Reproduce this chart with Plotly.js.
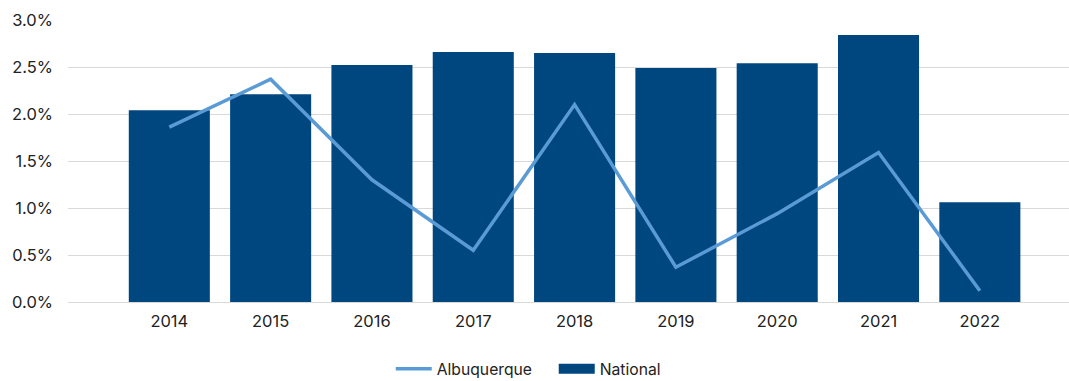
<!DOCTYPE html>
<html>
<head>
<meta charset="utf-8">
<script src="https://cdn.plot.ly/plotly-3.0.1.min.js"></script>
<style>html,body{margin:0;padding:0;background:#fff;}#chart{width:1069px;height:381px;}</style>
</head>
<body>
<div id="chart"></div>
<script>
const years = ['2014','2015','2016','2017','2018','2019','2020','2021','2022'];
const national = [0.0204, 0.0221, 0.0252, 0.0266, 0.0265, 0.0249, 0.0254, 0.0284, 0.0106];
const albuquerque = [0.0186, 0.0237, 0.0130, 0.0055, 0.0210, 0.0037, 0.0094, 0.0159, 0.0012];
const yTicks = [0, 0.005, 0.01, 0.015, 0.02, 0.025, 0.03];

const font = {family: 'Inter, "Noto Sans", sans-serif', color: '#222', size: 16};

const data = [
  {type: 'scatter', mode: 'lines', name: 'Albuquerque', x: years, y: albuquerque,
   line: {color: '#5B9BD5', width: 3.5}},
  {type: 'bar', name: 'National', x: years, y: national, showlegend: false,
   marker: {color: '#00467F'}, width: 0.8},
  // legend entry for the bars, drawn as a wide block like the reference
  {type: 'scatter', mode: 'lines', name: 'National', x: [null], y: [null],
   line: {color: '#00467F', width: 13}, hoverinfo: 'skip'}
];

const layout = {
  width: 1069, height: 381,
  margin: {l: 68, r: 0, t: 20, b: 79, autoexpand: false},
  paper_bgcolor: '#fff', plot_bgcolor: '#fff',
  font: font,
  showlegend: true,
  legend: {orientation: 'h', xref: 'container', x: 0.518, xanchor: 'center',
           yref: 'container', y: 0.0315, yanchor: 'middle',
           font: {size: 15.7, color: '#222'}, traceorder: 'normal', itemwidth: 36,
           entrywidth: 112},
  xaxis: {type: 'category', range: [-1.0, 8.88], showgrid: false, zeroline: false,
          showline: false, ticks: '', tickfont: {size: 16.5}, ticklabelstandoff: 7},
  yaxis: {range: [0, 0.03], tickvals: yTicks, tickformat: '.1%', showgrid: true,
          gridcolor: '#d9d9d9', gridwidth: 1, zeroline: true, zerolinecolor: '#d9d9d9',
          showline: false, ticks: '', tickfont: {size: 16.5}, ticklabelstandoff: 14}
};

Plotly.newPlot('chart', data, layout, {displayModeBar: false, staticPlot: true});
</script>
</body>
</html>
